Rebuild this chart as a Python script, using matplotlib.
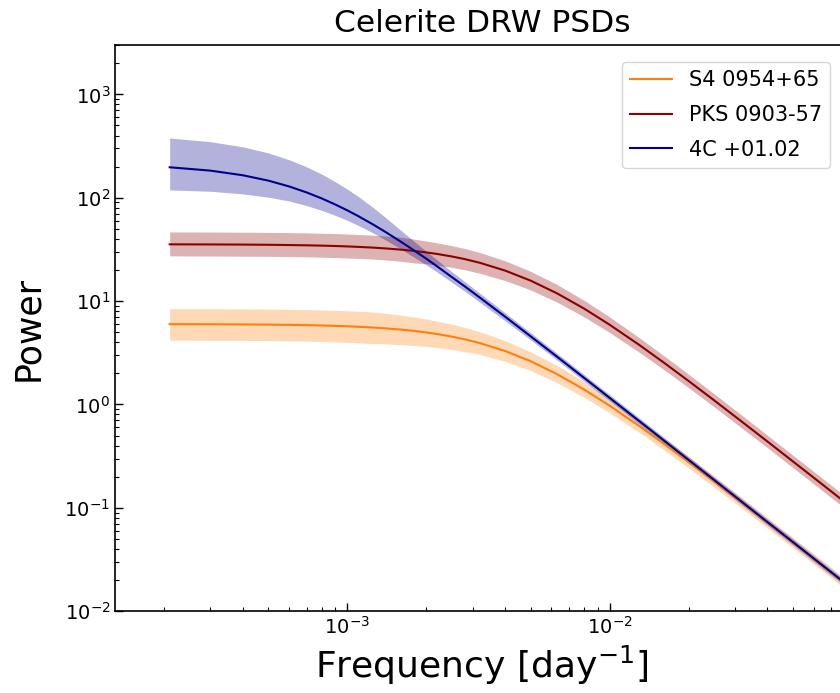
import matplotlib
matplotlib.use('Agg')
import matplotlib.pyplot as plt

freq = [2.1e-4, 3e-4, 4e-4, 5e-4, 6e-4, 7e-4, 8e-4, 9e-4, 1e-3, 1.1e-3,
        1.25e-3, 1.4e-3, 1.6e-3, 1.8e-3, 2e-3, 2.2e-3, 2.5e-3, 2.8e-3, 3.2e-3, 4e-3,
        5e-3, 6.3e-3, 8e-3, 1e-2, 1.3e-2, 1.6e-2, 2e-2, 2.5e-2, 3.2e-2, 4e-2,
        5e-2, 6.3e-2, 8e-2]

# S4 0954+65
s4_psd = [5.986, 5.972, 5.951, 5.924, 5.890, 5.852, 5.808, 5.759, 5.705, 5.647,
          5.552, 5.449, 5.300, 5.140, 4.973, 4.800, 4.536, 4.270, 3.924, 3.285,
          2.619, 1.967, 1.393, 0.973, 0.617, 0.422, 0.277, 0.180, 0.1113, 0.0717,
          0.0461, 0.0291, 0.0181]
s4_hi = [8.46, 8.44, 8.41, 8.37, 8.32, 8.27, 8.21, 8.14, 8.06, 7.98,
         7.84, 7.61, 7.31, 7.02, 6.71, 6.40, 5.98, 5.56, 5.05, 4.14,
         3.22, 2.38, 1.656, 1.137, 0.711, 0.482, 0.314, 0.2034, 0.1249, 0.0804,
         0.0517, 0.0327, 0.0203]
s4_lo = [4.19, 4.18, 4.17, 4.15, 4.12, 4.10, 4.07, 4.03, 3.99, 3.95,
         3.89, 3.86, 3.79, 3.72, 3.65, 3.56, 3.40, 3.25, 3.05, 2.61,
         2.13, 1.63, 1.172, 0.832, 0.535, 0.369, 0.244, 0.1593, 0.0992, 0.0639,
         0.0411, 0.0259, 0.0161]

# PKS 0903-57
pks_psd = [35.42, 35.34, 35.22, 35.06, 34.87, 34.65, 34.40, 34.12, 33.81, 33.47,
           32.93, 32.33, 31.47, 30.55, 29.58, 28.58, 27.04, 25.50, 23.47, 19.71,
           15.77, 11.89, 8.45, 5.91, 3.754, 2.570, 1.689, 1.100, 0.679, 0.438,
           0.2815, 0.1779, 0.1105]
pks_hi = [46.7, 46.6, 46.4, 46.2, 46.0, 45.7, 45.3, 45.0, 44.6, 44.1,
          43.4, 42.6, 41.5, 39.8, 38.1, 36.6, 34.4, 32.3, 29.5, 24.5,
          19.4, 14.5, 10.16, 7.03, 4.41, 3.00, 1.961, 1.272, 0.783, 0.503,
          0.323, 0.204, 0.127]
pks_lo = [27.4, 27.3, 27.2, 27.1, 26.95, 26.8, 26.6, 26.4, 26.1, 25.9,
          25.5, 25.0, 24.3, 23.4, 22.97, 22.3, 21.2, 20.1, 18.6, 15.8,
          12.8, 9.78, 7.03, 4.97, 3.19, 2.20, 1.455, 0.952, 0.589, 0.382,
          0.245, 0.155, 0.0963]

# 4C +01.02
c4_psd = [197.1, 183.0, 164.8, 146.3, 128.5, 112.4, 98.2, 85.9, 75.4, 66.4,
          55.3, 46.5, 37.5, 30.8, 25.7, 21.65, 17.1, 13.91, 10.81, 7.05,
          4.56, 2.90, 1.805, 1.160, 0.688, 0.454, 0.291, 0.1866, 0.1138, 0.0728,
          0.0467, 0.0294, 0.01826]
c4_hi = [378.2, 348.6, 310.5, 271.2, 232.7, 198.9, 168.7, 142.6, 120.9, 102.9,
         80.8, 64.2, 48.3, 37.7, 30.3, 24.96, 19.27, 15.47, 11.91, 7.68,
         4.94, 3.13, 1.942, 1.244, 0.738, 0.487, 0.312, 0.2000, 0.1220, 0.0780,
         0.0501, 0.0315, 0.01957]
c4_lo = [118.9, 115.5, 108.9, 101.2, 93.0, 83.9, 75.3, 67.4, 60.3, 54.0,
         45.8, 39.0, 31.9, 26.5, 22.4, 19.07, 15.24, 12.48, 9.75, 6.43,
         4.21, 2.69, 1.677, 1.082, 0.642, 0.424, 0.2715, 0.1741, 0.1062, 0.0679,
         0.0436, 0.0274, 0.01704]

fig = plt.figure(figsize=(8.4, 6.93), dpi=100)
ax = fig.add_axes([0.137, 0.118, 0.874, 0.817])

# bandas primeiro, linhas por cima
ax.fill_between(freq, s4_lo, s4_hi, color='#ff7f0e', alpha=0.3, lw=0)
ax.plot(freq, s4_psd, color='#ff7f0e', lw=1.5, label='S4 0954+65')
ax.fill_between(freq, pks_lo, pks_hi, color='darkred', alpha=0.3, lw=0)
ax.plot(freq, pks_psd, color='darkred', lw=1.5, label='PKS 0903-57')
ax.fill_between(freq, c4_lo, c4_hi, color='darkblue', alpha=0.3, lw=0)
ax.plot(freq, c4_psd, color='darkblue', lw=1.5, label='4C +01.02')

ax.set_xscale('log')
ax.set_yscale('log')
ax.set_xlim(1.3e-4, 0.082)
ax.set_ylim(1e-2, 3e3)

ax.set_title('Celerite DRW PSDs', fontsize=22.5, pad=9.5)
ax.set_xlabel('Frequency [day$^{-1}$]', fontsize=26)
ax.set_ylabel('Power', fontsize=25, labelpad=14)
ax.tick_params(which='both', direction='in', labelsize=14)
ax.tick_params(which='major', length=6, width=1)
ax.tick_params(which='minor', length=3, width=0.8)
for s in ax.spines.values():
    s.set_linewidth(1.2)

ax.legend(loc='upper right', fontsize=15, labelspacing=0.7,
          borderaxespad=0, bbox_to_anchor=(0.974, 0.970))

fig.savefig('out.png', dpi=100)
